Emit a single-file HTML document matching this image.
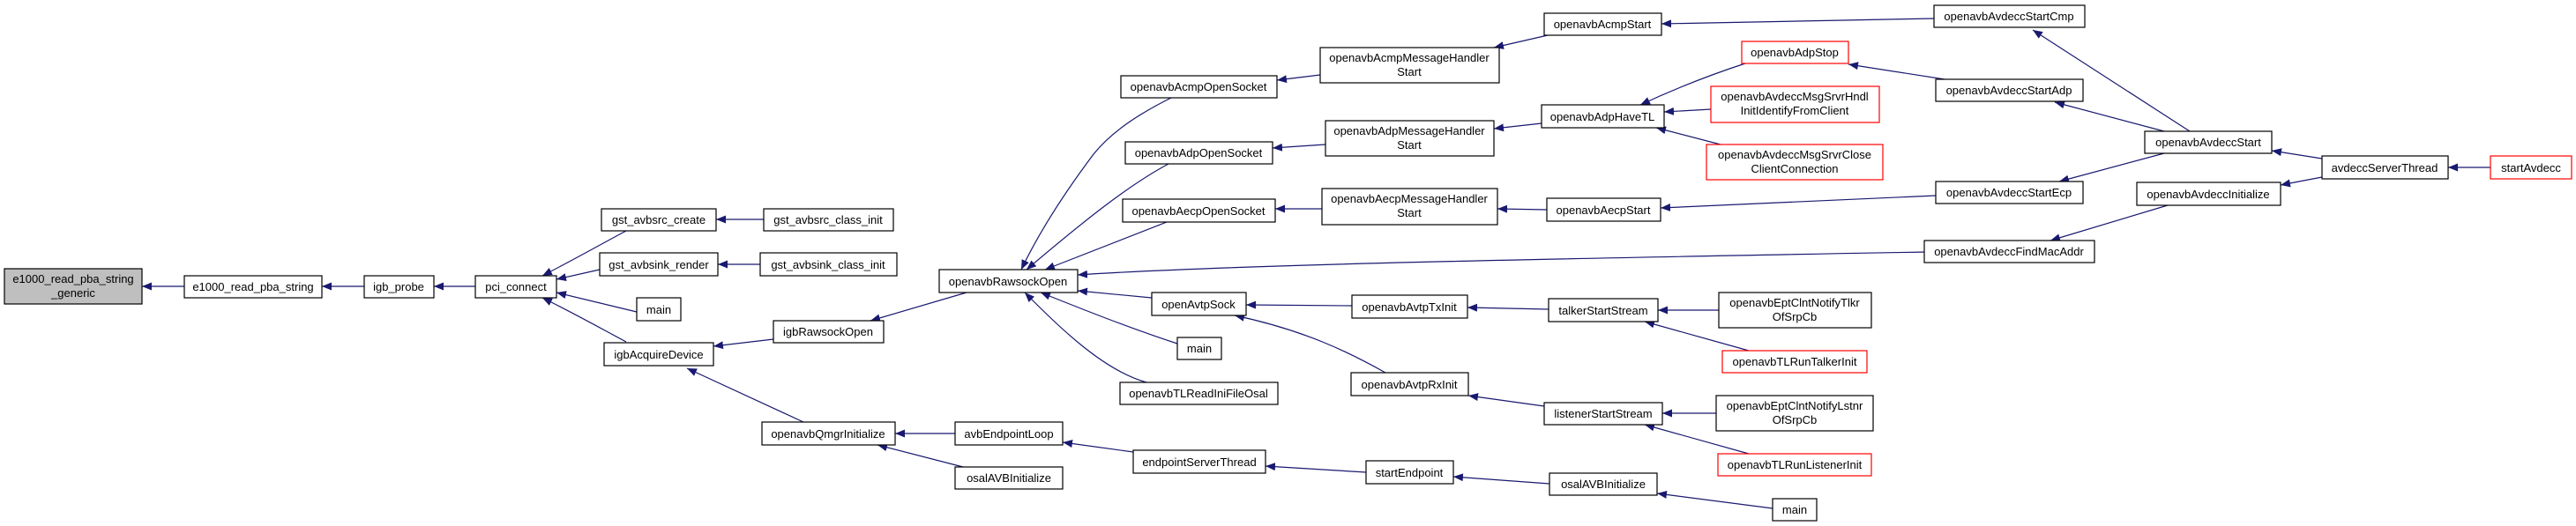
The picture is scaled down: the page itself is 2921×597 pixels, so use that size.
<!DOCTYPE html>
<html><head><meta charset="utf-8"><style>
html,body{margin:0;padding:0;background:#fff;}
svg{display:block;}
text{font-family:"Liberation Sans",sans-serif;font-size:13px;fill:#000;text-anchor:middle;}
.b{fill:#fff;stroke:#000;stroke-width:1.2;}
.r{fill:#fff;stroke:#ff0000;stroke-width:1.2;}
.e{fill:none;stroke:#191970;stroke-width:1.2;marker-end:url(#a);}
</style></head><body>
<svg width="2921" height="597" viewBox="0 0 2921 597" xmlns="http://www.w3.org/2000/svg">
<defs><marker id="a" markerUnits="userSpaceOnUse" markerWidth="12" markerHeight="9" refX="11" refY="4.5" orient="auto"><path d="M0,0 L11,4.5 L0,9 z" fill="#191970"/></marker></defs>

<!-- edges -->
<path class="e" d="M209,325 L161,325"/>
<path class="e" d="M413,325 L365,325"/>
<path class="e" d="M539,325 L492,325"/>
<path class="e" d="M710,262 C680,278 650,295 615,313"/>
<path class="e" d="M680,306 L631,317"/>
<path class="e" d="M722,354 L631,332"/>
<path class="e" d="M710,388 C680,372 650,355 615,338"/>
<path class="e" d="M866,249 L812,249"/>
<path class="e" d="M862,300 L814,300"/>
<path class="e" d="M877,385 L809,393"/>
<path class="e" d="M911,479 L779,418"/>
<path class="e" d="M1096,332 L987,364"/>
<path class="e" d="M1083,492 L1015,492"/>
<path class="e" d="M1092,530 L995,505"/>
<path class="e" d="M1285,513 L1205,502"/>
<path class="e" d="M1549,536 L1435,529"/>
<path class="e" d="M1757,549 L1648,541"/>
<path class="e" d="M2010,577 L1879,560"/>
<path class="e" d="M1328,111 C1290,130 1260,150 1240,175 C1210,215 1180,260 1158,306"/>
<path class="e" d="M1325,186 C1280,210 1230,250 1164,306"/>
<path class="e" d="M1323,252 L1185,306"/>
<path class="e" d="M2183,286 C1800,293 1400,300 1222,312"/>
<path class="e" d="M1306,338 L1222,330"/>
<path class="e" d="M1335,390 C1280,372 1230,352 1180,332"/>
<path class="e" d="M1300,434 C1250,420 1200,370 1162,332"/>
<path class="e" d="M1497,85 L1448,91"/>
<path class="e" d="M1503,164 L1443,168"/>
<path class="e" d="M1499,237 L1446,237"/>
<path class="e" d="M1533,347 L1413,346"/>
<path class="e" d="M1571,423 C1530,400 1480,375 1400,358"/>
<path class="e" d="M1755,40 L1694,54"/>
<path class="e" d="M1748,140 L1694,146"/>
<path class="e" d="M1754,238 L1698,237"/>
<path class="e" d="M2193,21 L1884,27"/>
<path class="e" d="M1979,72 C1930,88 1890,105 1860,119"/>
<path class="e" d="M1940,124 L1887,127"/>
<path class="e" d="M1951,164 L1878,145"/>
<path class="e" d="M2195,222 L1883,236"/>
<path class="e" d="M2205,90 L2096,73"/>
<path class="e" d="M1756,351 L1664,349"/>
<path class="e" d="M1751,461 L1665,449"/>
<path class="e" d="M1949,352 L1880,352"/>
<path class="e" d="M1983,398 L1865,365"/>
<path class="e" d="M1946,469 L1885,469"/>
<path class="e" d="M1983,515 L1865,482"/>
<path class="e" d="M2483,149 L2305,34"/>
<path class="e" d="M2454,149 L2330,116"/>
<path class="e" d="M2454,174 L2335,206"/>
<path class="e" d="M2458,233 L2325,273"/>
<path class="e" d="M2633,180 L2576,171"/>
<path class="e" d="M2633,201 L2586,210"/>
<path class="e" d="M2824,190 L2776,190"/>

<!-- nodes -->
<rect x="5" y="305" width="156" height="40" fill="#bfbfbf" stroke="#000" stroke-width="1.2"/>
<text x="83" y="321">e1000_read_pba_string</text><text x="83" y="337">_generic</text>
<rect class="b" x="209" y="313" width="156" height="25"/><text x="287" y="330">e1000_read_pba_string</text>
<rect class="b" x="413" y="313" width="79" height="25"/><text x="452" y="330">igb_probe</text>
<rect class="b" x="539" y="313" width="92" height="25"/><text x="585" y="330">pci_connect</text>
<rect class="b" x="682" y="237" width="130" height="25"/><text x="747" y="254">gst_avbsrc_create</text>
<rect class="b" x="680" y="287" width="134" height="26"/><text x="747" y="305">gst_avbsink_render</text>
<rect class="b" x="722" y="338" width="50" height="26"/><text x="747" y="356">main</text>
<rect class="b" x="685" y="389" width="124" height="26"/><text x="747" y="407">igbAcquireDevice</text>
<rect class="b" x="866" y="237" width="147" height="25"/><text x="939" y="254">gst_avbsrc_class_init</text>
<rect class="b" x="862" y="287" width="155" height="26"/><text x="939" y="305">gst_avbsink_class_init</text>
<rect class="b" x="877" y="364" width="125" height="25"/><text x="939" y="381">igbRawsockOpen</text>
<rect class="b" x="864" y="479" width="151" height="26"/><text x="939" y="497">openavbQmgrInitialize</text>
<rect class="b" x="1083" y="479" width="122" height="26"/><text x="1144" y="497">avbEndpointLoop</text>
<rect class="b" x="1083" y="530" width="122" height="25"/><text x="1144" y="547">osalAVBInitialize</text>
<rect class="b" x="1065" y="306" width="157" height="26"/><text x="1143" y="324">openavbRawsockOpen</text>
<rect class="b" x="1271" y="86" width="177" height="25"/><text x="1359" y="103">openavbAcmpOpenSocket</text>
<rect class="b" x="1276" y="161" width="167" height="25"/><text x="1359" y="178">openavbAdpOpenSocket</text>
<rect class="b" x="1273" y="226" width="173" height="26"/><text x="1359" y="244">openavbAecpOpenSocket</text>
<rect class="b" x="1306" y="332" width="107" height="26"/><text x="1359" y="350">openAvtpSock</text>
<rect class="b" x="1335" y="383" width="50" height="25"/><text x="1360" y="400">main</text>
<rect class="b" x="1270" y="434" width="179" height="25"/><text x="1359" y="451">openavbTLReadIniFileOsal</text>
<rect class="b" x="1285" y="511" width="150" height="26"/><text x="1360" y="529">endpointServerThread</text>
<rect class="b" x="1497" y="54" width="203" height="40"/><text x="1598" y="70">openavbAcmpMessageHandler</text><text x="1598" y="86">Start</text>
<rect class="b" x="1503" y="137" width="191" height="40"/><text x="1598" y="153">openavbAdpMessageHandler</text><text x="1598" y="169">Start</text>
<rect class="b" x="1499" y="214" width="199" height="41"/><text x="1598" y="230">openavbAecpMessageHandler</text><text x="1598" y="246">Start</text>
<rect class="b" x="1533" y="335" width="131" height="26"/><text x="1598" y="353">openavbAvtpTxInit</text>
<rect class="b" x="1532" y="423" width="133" height="26"/><text x="1598" y="441">openavbAvtpRxInit</text>
<rect class="b" x="1549" y="523" width="99" height="26"/><text x="1598" y="541">startEndpoint</text>
<rect class="b" x="1751" y="15" width="133" height="25"/><text x="1817" y="32">openavbAcmpStart</text>
<rect class="b" x="1748" y="119" width="139" height="26"/><text x="1817" y="137">openavbAdpHaveTL</text>
<rect class="b" x="1754" y="225" width="129" height="26"/><text x="1818" y="243">openavbAecpStart</text>
<rect class="b" x="1756" y="339" width="124" height="26"/><text x="1818" y="357">talkerStartStream</text>
<rect class="b" x="1751" y="457" width="134" height="25"/><text x="1818" y="474">listenerStartStream</text>
<rect class="b" x="1757" y="537" width="122" height="25"/><text x="1818" y="554">osalAVBInitialize</text>
<rect class="r" x="1975" y="47" width="121" height="25"/><text x="2035" y="64">openavbAdpStop</text>
<rect class="r" x="1940" y="98" width="191" height="41"/><text x="2035" y="114">openavbAvdeccMsgSrvrHndl</text><text x="2035" y="130">InitIdentifyFromClient</text>
<rect class="r" x="1935" y="164" width="200" height="40"/><text x="2035" y="180">openavbAvdeccMsgSrvrClose</text><text x="2035" y="196">ClientConnection</text>
<rect class="b" x="1949" y="332" width="173" height="40"/><text x="2035" y="348">openavbEptClntNotifyTlkr</text><text x="2035" y="364">OfSrpCb</text>
<rect class="r" x="1953" y="398" width="164" height="25"/><text x="2035" y="415">openavbTLRunTalkerInit</text>
<rect class="b" x="1946" y="449" width="178" height="40"/><text x="2035" y="465">openavbEptClntNotifyLstnr</text><text x="2035" y="481">OfSrpCb</text>
<rect class="r" x="1948" y="515" width="174" height="25"/><text x="2035" y="532">openavbTLRunListenerInit</text>
<rect class="b" x="2010" y="566" width="50" height="25"/><text x="2035" y="583">main</text>
<rect class="b" x="2193" y="6" width="171" height="25"/><text x="2278" y="23">openavbAvdeccStartCmp</text>
<rect class="b" x="2195" y="90" width="167" height="25"/><text x="2278" y="107">openavbAvdeccStartAdp</text>
<rect class="b" x="2195" y="206" width="167" height="25"/><text x="2278" y="223">openavbAvdeccStartEcp</text>
<rect class="b" x="2182" y="273" width="193" height="25"/><text x="2278" y="290">openavbAvdeccFindMacAddr</text>
<rect class="b" x="2432" y="149" width="144" height="25"/><text x="2504" y="166">openavbAvdeccStart</text>
<rect class="b" x="2423" y="207" width="163" height="26"/><text x="2504" y="225">openavbAvdeccInitialize</text>
<rect class="b" x="2633" y="177" width="143" height="26"/><text x="2704" y="195">avdeccServerThread</text>
<rect class="r" x="2824" y="177" width="92" height="26"/><text x="2870" y="195">startAvdecc</text>
</svg>
</body></html>
